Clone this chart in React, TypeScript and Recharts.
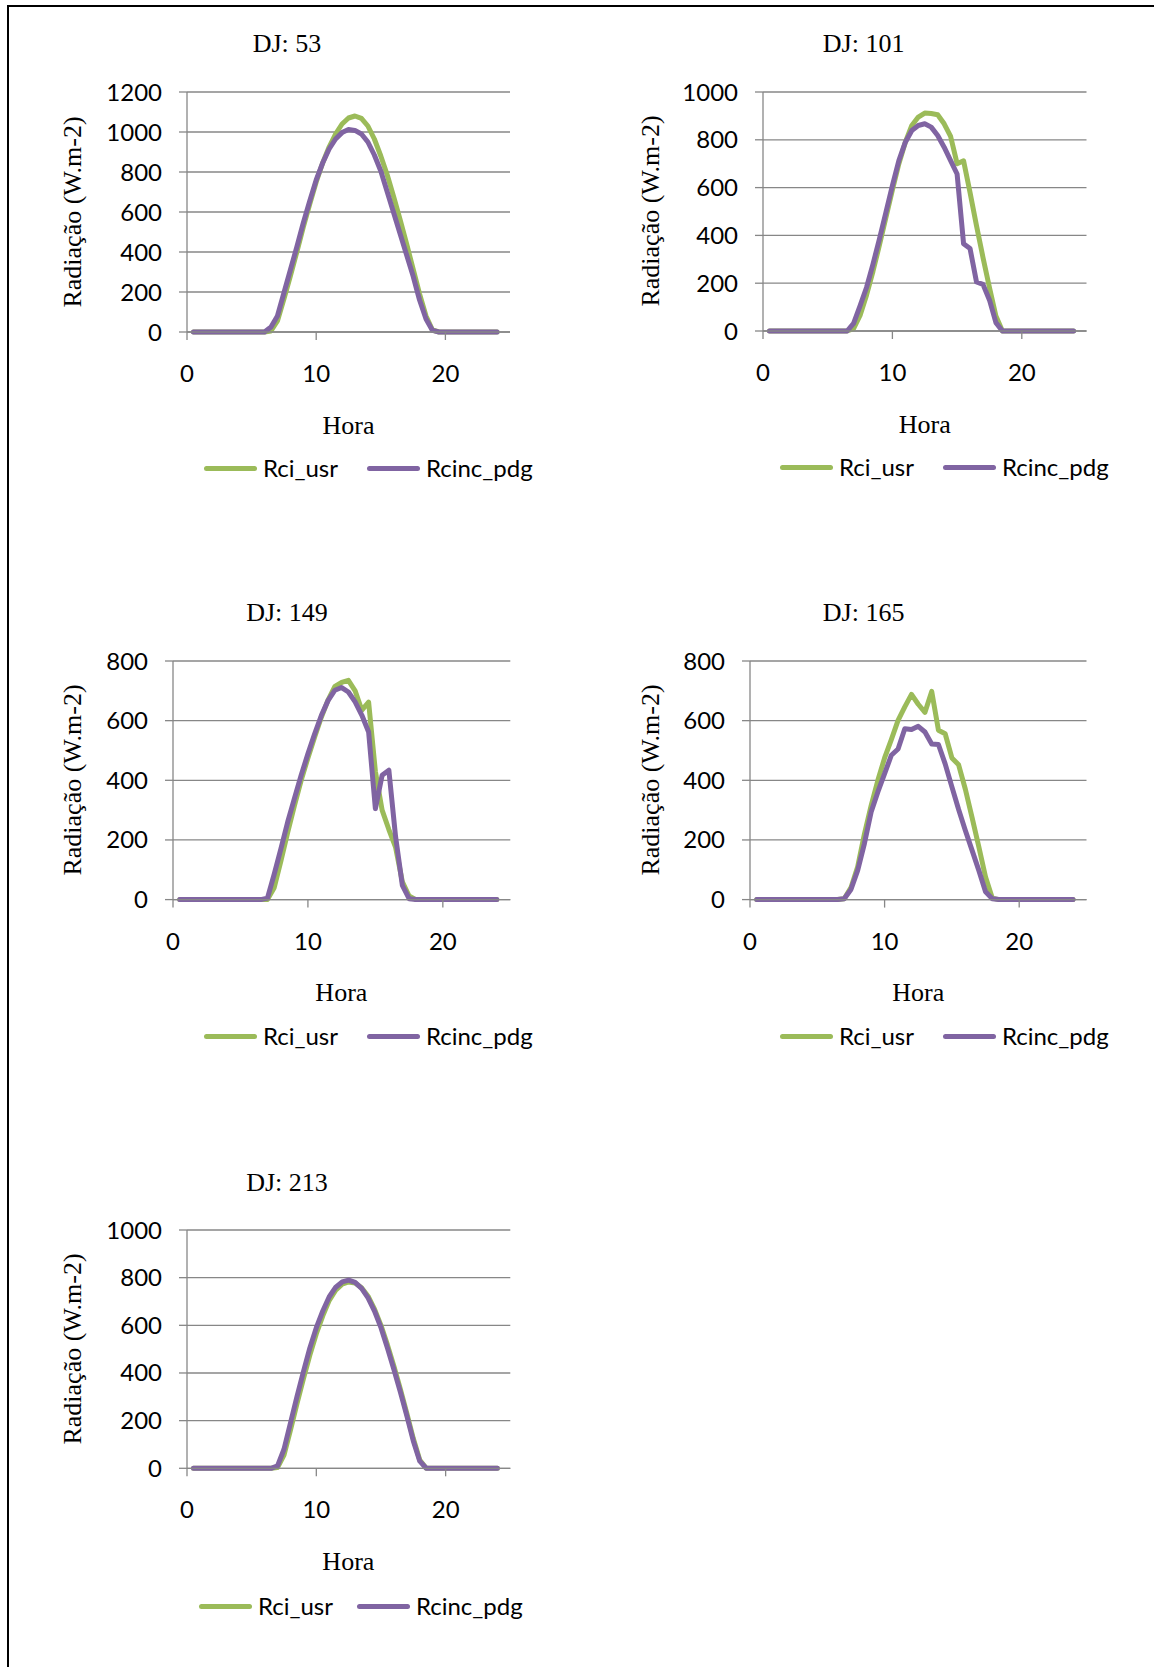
import React from 'react';
import { LineChart, Line, XAxis, YAxis, CartesianGrid } from 'recharts';

// ---------- DATA ----------
const hours = [0.5, 1, 1.5, 2, 2.5, 3, 3.5, 4, 4.5, 5, 5.5, 6, 6.5, 7, 7.5, 8, 8.5, 9, 9.5, 10, 10.5, 11, 11.5, 12, 12.5, 13, 13.5, 14, 14.5, 15, 15.5, 16, 16.5, 17, 17.5, 18, 18.5, 19, 19.5, 20, 20.5, 21, 21.5, 22, 22.5, 23, 23.5, 24];

const seriesNames = ['Rci_usr', 'Rcinc_pdg'];
const seriesColors = ['#9BBB59', '#8064A2'];
const titles = ['DJ: 53', 'DJ: 101', 'DJ: 149', 'DJ: 165', 'DJ: 213'];
const xAxisTitle = 'Hora';
const yAxisTitle = 'Radiação (W.m-2)';
const xTicks = [0, 10, 20];
const yTicks053 = [0, 200, 400, 600, 800, 1000, 1200];
const yTicks101 = [0, 200, 400, 600, 800, 1000];
const yTicks149 = [0, 200, 400, 600, 800];
const yTicks165 = [0, 200, 400, 600, 800];
const yTicks213 = [0, 200, 400, 600, 800, 1000];

const rciUsr053 = [0, 0, 0, 0, 0, 0, 0, 0, 0, 0, 0, 0, 5, 55, 165, 280, 400, 525, 640, 750, 845, 925, 990, 1040, 1070, 1080, 1068, 1030, 965, 880, 785, 675, 560, 440, 315, 190, 80, 10, 0, 0, 0, 0, 0, 0, 0, 0, 0, 0];
const rcincPdg053 = [0, 0, 0, 0, 0, 0, 0, 0, 0, 0, 0, 0, 25, 80, 195, 310, 425, 545, 655, 760, 845, 915, 965, 997, 1012, 1008, 990, 950, 885, 805, 700, 595, 490, 385, 280, 160, 65, 8, 0, 0, 0, 0, 0, 0, 0, 0, 0, 0];

const rciUsr101 = [0, 0, 0, 0, 0, 0, 0, 0, 0, 0, 0, 0, 0, 10, 65, 150, 250, 360, 475, 590, 700, 790, 860, 895, 912, 910, 905, 867, 814, 700, 712, 580, 440, 308, 182, 63, 0, 0, 0, 0, 0, 0, 0, 0, 0, 0, 0, 0];
const rcincPdg101 = [0, 0, 0, 0, 0, 0, 0, 0, 0, 0, 0, 0, 0, 32, 105, 182, 280, 385, 497, 608, 713, 790, 839, 860, 867, 853, 818, 769, 713, 657, 365, 345, 205, 195, 130, 35, 0, 0, 0, 0, 0, 0, 0, 0, 0, 0, 0, 0];

const rciUsr149 = [0, 0, 0, 0, 0, 0, 0, 0, 0, 0, 0, 0, 0, 0, 40, 130, 225, 315, 400, 475, 545, 612, 670, 715, 728, 735, 700, 635, 662, 430, 300, 235, 175, 60, 12, 0, 0, 0, 0, 0, 0, 0, 0, 0, 0, 0, 0, 0];
const rcincPdg149 = [0, 0, 0, 0, 0, 0, 0, 0, 0, 0, 0, 0, 0, 5, 85, 171, 260, 339, 417, 489, 556, 618, 668, 702, 711, 696, 663, 618, 562, 305, 417, 434, 210, 48, 3, 0, 0, 0, 0, 0, 0, 0, 0, 0, 0, 0, 0, 0];

const rciUsr165 = [0, 0, 0, 0, 0, 0, 0, 0, 0, 0, 0, 0, 0, 3, 40, 110, 220, 315, 400, 475, 536, 601, 646, 688, 655, 628, 698, 568, 556, 475, 452, 370, 275, 177, 76, 5, 0, 0, 0, 0, 0, 0, 0, 0, 0, 0, 0, 0];
const rcincPdg165 = [0, 0, 0, 0, 0, 0, 0, 0, 0, 0, 0, 0, 0, 3, 34, 98, 188, 294, 361, 422, 484, 505, 573, 570, 581, 562, 522, 520, 455, 378, 302, 232, 165, 98, 26, 3, 0, 0, 0, 0, 0, 0, 0, 0, 0, 0, 0, 0];

const rciUsr213 = [0, 0, 0, 0, 0, 0, 0, 0, 0, 0, 0, 0, 0, 3, 55, 160, 270, 375, 475, 565, 640, 705, 748, 773, 782, 778, 758, 722, 668, 600, 518, 428, 332, 230, 125, 35, 0, 0, 0, 0, 0, 0, 0, 0, 0, 0, 0, 0];
const rcincPdg213 = [0, 0, 0, 0, 0, 0, 0, 0, 0, 0, 0, 0, 0, 10, 80, 190, 300, 405, 505, 590, 660, 720, 760, 782, 790, 780, 755, 715, 660, 590, 505, 415, 320, 220, 115, 30, 0, 0, 0, 0, 0, 0, 0, 0, 0, 0, 0, 0];

// ---------- LAYOUT ----------
const GRID = '#878787';
const SERIF = '"Liberation Serif", "Times New Roman", serif';
const SANS = 'Lato, "Liberation Sans", sans-serif';

const panels = [
  { title: titles[0], usr: rciUsr053, pdg: rcincPdg053, yTicks: yTicks053, left: 187, top: 91.5, right: 510, bottom: 331.5, titleX: 287, titleY: 43.6, yLabelX: 73, legendX: 204, legendY: 468, legendStep: 163 },
  { title: titles[1], usr: rciUsr101, pdg: rcincPdg101, yTicks: yTicks101, left: 763, top: 91.5, right: 1086.5, bottom: 330.5, titleX: 863.6, titleY: 43.6, yLabelX: 651, legendX: 780, legendY: 467, legendStep: 163 },
  { title: titles[2], usr: rciUsr149, pdg: rcincPdg149, yTicks: yTicks149, left: 172.7, top: 660.7, right: 510, bottom: 899.3, titleX: 287, titleY: 612.6, yLabelX: 73, legendX: 204, legendY: 1036, legendStep: 163 },
  { title: titles[3], usr: rciUsr165, pdg: rcincPdg165, yTicks: yTicks165, left: 750, top: 660.7, right: 1086.5, bottom: 899.3, titleX: 863.6, titleY: 612.6, yLabelX: 651, legendX: 780, legendY: 1036, legendStep: 163 },
  { title: titles[4], usr: rciUsr213, pdg: rcincPdg213, yTicks: yTicks213, left: 186.7, top: 1230, right: 510, bottom: 1468.3, titleX: 287, titleY: 1182.7, yLabelX: 73, legendX: 199, legendY: 1606, legendStep: 158 },
];

const centered: React.CSSProperties = {
  position: 'absolute',
  transform: 'translate(-50%, -50%)',
  whiteSpace: 'nowrap',
  lineHeight: 1,
  color: '#000',
};

function Panel({ p }: { p: any }) {
  const data = hours.map((h, i) => ({ hour: h, [seriesNames[0]]: p.usr[i], [seriesNames[1]]: p.pdg[i] }));
  const yw = 110;
  const mt = 20;
  const mr = 12;
  const xh = 70;
  const plotW = p.right - p.left;
  const plotH = p.bottom - p.top;
  const yMax = p.yTicks[p.yTicks.length - 1];
  const axisStyle = { stroke: GRID, strokeWidth: 1.3 };
  const tickStyle = { fill: '#000', fontSize: 24, fontFamily: SANS };
  return (
    <>
      <div style={{ ...centered, left: p.titleX, top: p.titleY, fontFamily: SERIF, fontSize: 26 }}>{p.title}</div>
      <div
        style={{
          ...centered,
          left: p.yLabelX,
          top: (p.top + p.bottom) / 2,
          transform: 'translate(-50%, -50%) rotate(-90deg)',
          fontFamily: SERIF,
          fontSize: 26,
        }}
      >
        {yAxisTitle}
      </div>
      <div style={{ ...centered, left: (p.left + p.right) / 2, top: p.bottom + 94, fontFamily: SERIF, fontSize: 26 }}>{xAxisTitle}</div>
      <div style={{ position: 'absolute', left: p.left - yw, top: p.top - mt }}>
        <LineChart width={yw + plotW + mr} height={mt + plotH + xh} data={data} margin={{ top: mt, right: mr, bottom: 0, left: 0 }}>
          <CartesianGrid vertical={false} stroke={GRID} strokeWidth={1.3} />
          <XAxis
            type="number"
            dataKey="hour"
            domain={[0, 25]}
            ticks={xTicks}
            interval={0}
            height={xh}
            tickSize={8}
            tickMargin={25}
            axisLine={axisStyle}
            tickLine={axisStyle}
            tick={tickStyle}
          />
          <YAxis
            type="number"
            domain={[0, yMax]}
            ticks={p.yTicks}
            interval={0}
            width={yw}
            tickSize={8}
            tickMargin={17}
            axisLine={axisStyle}
            tickLine={axisStyle}
            tick={tickStyle}
          />
          {seriesNames.map((name, k) => (
            <Line
              key={name}
              type="linear"
              dataKey={name}
              stroke={seriesColors[k]}
              strokeWidth={5}
              strokeLinejoin="round"
              strokeLinecap="round"
              dot={false}
              activeDot={false}
              isAnimationActive={false}
            />
          ))}
        </LineChart>
      </div>
      {seriesNames.map((name, k) => (
        <div
          key={name}
          style={{
            position: 'absolute',
            left: p.legendX + k * p.legendStep,
            top: p.legendY,
            transform: 'translateY(-50%)',
            display: 'flex',
            alignItems: 'center',
            whiteSpace: 'nowrap',
          }}
        >
          <div style={{ width: 53, height: 5, background: seriesColors[k], borderRadius: 2.5 }} />
          <span style={{ marginLeft: 6, fontFamily: SANS, fontSize: 24, lineHeight: 1, color: '#000' }}>{name}</span>
        </div>
      ))}
    </>
  );
}

export default function App() {
  return (
    <div style={{ position: 'absolute', left: 0, top: 0, width: 1154, height: 1667, overflow: 'hidden', background: '#fff' }}>
      <div style={{ position: 'absolute', left: 7, top: 5, width: 1147, height: 2, background: '#000' }} />
      <div style={{ position: 'absolute', left: 7, top: 5, width: 2, height: 1662, background: '#000' }} />
      {panels.map((p, i) => (
        <Panel key={i} p={p} />
      ))}
    </div>
  );
}
